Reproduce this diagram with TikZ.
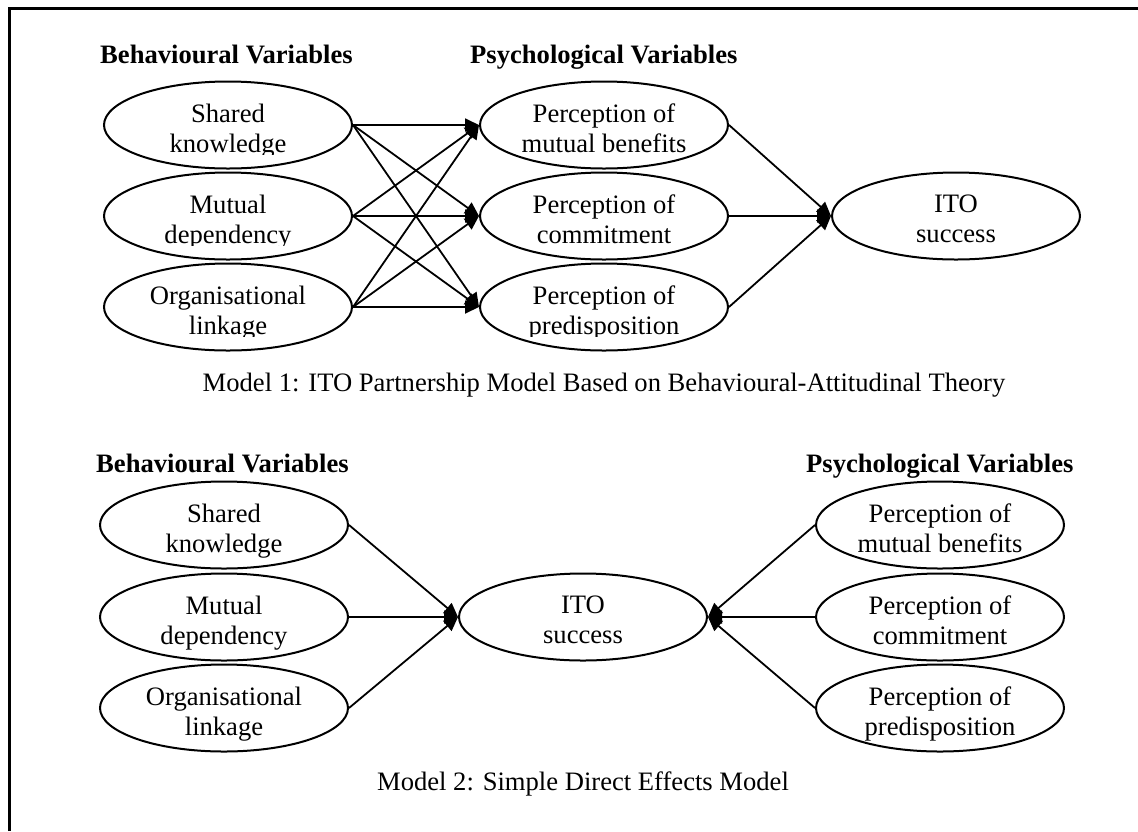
\documentclass[tikz,border=0pt]{standalone}
\usepackage{fontspec}
\setmainfont{Liberation Serif}
\usetikzlibrary{shapes.geometric,arrows.meta,calc}
% two centred lines, baseline of the node = baseline of the second line
\newcommand\twolines[2]{\begin{tabular}[b]{@{}c@{}}#1\\#2\end{tabular}}
% label of an oval whose text box cuts off the descenders of the second line
\newcommand\boxedlabel[4]{%
  \begin{scope}
    \clip ($(#1)+(-124,-44)$) rectangle ($(#1)+(124,29)$);
    \node[lbl] (#2) at ($(#1)+(0,27)$) {\twolines{#3}{#4}};
  \end{scope}}
\begin{document}
\begin{tikzpicture}[x=1pt,y=-1pt,
  oval/.style={ellipse,draw,line width=2pt,minimum width=248pt,minimum height=87pt,inner sep=0pt},
  lbl/.style={font=\fontsize{26.6}{30}\selectfont,inner sep=0pt,anchor=base},
  head/.style={font=\fontsize{26.6}{30}\selectfont\bfseries,inner sep=0pt,anchor=base west},
  captxt/.style={font=\fontsize{26.6}{30}\selectfont,inner sep=0pt,anchor=base},
  link/.style={line width=1.8pt,-{Triangle[length=14pt,width=13pt]}},
]
\useasboundingbox (0,0) rectangle (1138,831);
% frame
\draw[line width=3pt] (9,831) -- (9,8) -- (1138,8);

% ---------- Model 1 ----------
\node[head] (h1b) at (100,63) {Behavioural Variables};
\node[head] (h1p) at (470,63) {Psychological Variables};

\node[oval] (b1) at (228,125) {};
\node[oval] (b2) at (228,216) {};
\node[oval] (b3) at (228,307) {};
\node[oval] (p1) at (604,125) {};
\node[oval] (p2) at (604,216) {};
\node[oval] (p3) at (604,307) {};
\node[oval] (ito1) at (956,216) {};

\boxedlabel{b1}{tb1}{Shared}{knowledge}
\boxedlabel{b2}{tb2}{Mutual}{dependency}
\boxedlabel{b3}{tb3}{Organisational}{linkage}
\boxedlabel{p1}{tp1}{Perception of}{mutual benefits}
\boxedlabel{p2}{tp2}{Perception of}{commitment}
\boxedlabel{p3}{tp3}{Perception of}{predisposition}
\node[lbl] (ti1) at ($(ito1)+(0,26)$) {\twolines{ITO}{success}};

\foreach \s in {b1,b2,b3}
  \foreach \t in {p1,p2,p3}
    \draw[link] (\s.east) -- (\t.west);
\foreach \s in {p1,p2,p3}
  \draw[link] (\s.east) -- (ito1.west);

\node[captxt] (c1) at (604,391) {Model 1: ITO Partnership Model Based on Behavioural-Attitudinal Theory};

% ---------- Model 2 ----------
\node[head] (h2b) at (96,472) {Behavioural Variables};
\node[head] (h2p) at (806,472) {Psychological Variables};

\node[oval] (d1) at (224,525) {};
\node[oval] (d2) at (224,617) {};
\node[oval] (d3) at (224,708) {};
\node[oval] (ito2) at (583,617) {};
\node[oval] (q1) at (940,525) {};
\node[oval] (q2) at (940,617) {};
\node[oval] (q3) at (940,708) {};

\node[lbl] (td1) at ($(d1)+(0,27)$) {\twolines{Shared}{knowledge}};
\node[lbl] (td2) at ($(d2)+(0,27)$) {\twolines{Mutual}{dependency}};
\node[lbl] (td3) at ($(d3)+(0,27)$) {\twolines{Organisational}{linkage}};
\node[lbl] (ti2) at ($(ito2)+(0,26)$) {\twolines{ITO}{success}};
\node[lbl] (tq1) at ($(q1)+(0,27)$) {\twolines{Perception of}{mutual benefits}};
\node[lbl] (tq2) at ($(q2)+(0,27)$) {\twolines{Perception of}{commitment}};
\node[lbl] (tq3) at ($(q3)+(0,27)$) {\twolines{Perception of}{predisposition}};

\foreach \s in {d1,d2,d3}
  \draw[link] (\s.east) -- (ito2.west);
\foreach \s in {q1,q2,q3}
  \draw[link] (\s.west) -- (ito2.east);

\node[captxt] (c2) at (583,790) {Model 2: Simple Direct Effects Model};
\end{tikzpicture}
\end{document}
